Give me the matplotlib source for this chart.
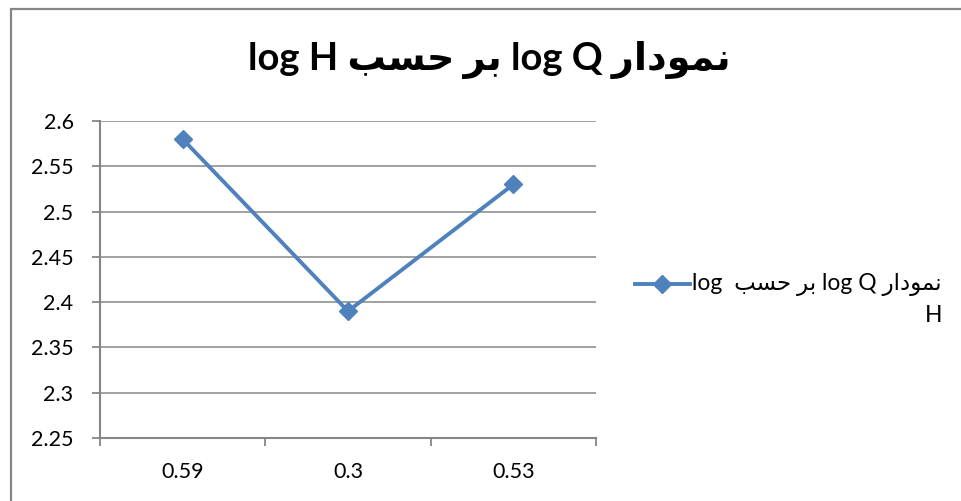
import matplotlib
matplotlib.use('Agg')
import matplotlib.pyplot as plt
from matplotlib.patches import Rectangle
from matplotlib.lines import Line2D

# data
categories = ['0.59', '0.3', '0.53']
log_q = [2.58, 2.39, 2.53]
title_text = 'نمودار log Q بر حسب log H'
legend_text = 'نمودار log Q بر حسب  log'
legend_text2 = 'H'

# matplotlib 3.10 has no arabic shaping, so do it by hand for the few letters used
# letter: (isolated, final, initial, medial)
FORMS = {
    'ب': ('\ufe8f', '\ufe90', '\ufe91', '\ufe92'),
    'ح': ('\ufea1', '\ufea2', '\ufea3', '\ufea4'),
    'س': ('\ufeb1', '\ufeb2', '\ufeb3', '\ufeb4'),
    'ن': ('\ufee5', '\ufee6', '\ufee7', '\ufee8'),
    'م': ('\ufee1', '\ufee2', '\ufee3', '\ufee4'),
    'و': ('\ufeed', '\ufeee', '\ufeed', '\ufeee'),
    'د': ('\ufea9', '\ufeaa', '\ufea9', '\ufeaa'),
    'ا': ('\ufe8d', '\ufe8e', '\ufe8d', '\ufe8e'),
    'ر': ('\ufead', '\ufeae', '\ufead', '\ufeae'),
}
DUAL = set('بحسنم')


def shape_word(w):
    out = []
    for i, ch in enumerate(w):
        p = w[i - 1] if i > 0 else None
        n = w[i + 1] if i + 1 < len(w) else None
        jp = p in DUAL
        jn = ch in DUAL and n in FORMS
        f = FORMS[ch]
        out.append(f[3] if jp and jn else f[1] if jp else f[2] if jn else f[0])
    return ''.join(reversed(out))


def rtl(text):
    runs = []
    for w in text.split(' '):
        latin = w.isascii() and w != ''
        if runs and runs[-1][0] == latin:
            runs[-1][1].append(w)
        else:
            runs.append((latin, [w]))
    parts = []
    for latin, words in reversed(runs):
        if latin:
            parts.append(' '.join(words))
        else:
            parts.append(' '.join(shape_word(w) for w in reversed(words)))
    return ' '.join(parts)


fonts = ['Lato', 'DejaVu Sans']
plt.rcParams['font.family'] = fonts
blue = '#4f81bd'
grey = '#868686'

fig = plt.figure(figsize=(9.61, 5.01), dpi=100)
fig.patches.append(Rectangle((10.5 / 961, -0.1), 1.2, 1 - 8.5 / 501 + 0.1,
                             transform=fig.transFigure, fill=False,
                             edgecolor=grey, linewidth=1.6))

ax = fig.add_axes([100 / 961, 1 - 438 / 501, 496 / 961, 317 / 501])
x = range(len(categories))
ax.plot(x, log_q, color=blue, lw=2.8, marker='D', ms=9, label='_')
ax.set_xlim(-0.5, len(categories) - 0.5)
ax.set_ylim(2.25, 2.6)
ax.set_yticks([2.25, 2.3, 2.35, 2.4, 2.45, 2.5, 2.55, 2.6])
ax.set_yticklabels(['2.25', '2.3', '2.35', '2.4', '2.45', '2.5', '2.55', '2.6'])
ax.set_xticks(list(x))
ax.set_xticklabels(categories)
ax.set_xticks([-0.5, 0.5, 1.5, 2.5], minor=True)
ax.tick_params(axis='x', which='major', length=0, pad=17, labelsize=15.5)
ax.tick_params(axis='x', which='minor', length=6, width=1.3, color=grey)
ax.tick_params(axis='y', length=6, width=1.3, color=grey, pad=13, labelsize=15.5)
ax.grid(axis='y', color=grey, lw=1.1)
ax.set_axisbelow(True)
for s in ['top', 'right']:
    ax.spines[s].set_visible(False)
for s in ['left', 'bottom']:
    ax.spines[s].set_color(grey)
    ax.spines[s].set_linewidth(1.5)

fig.text(489 / 961, 1 - 60 / 501, rtl(title_text), ha='center', va='center',
         fontsize=27.5, fontweight='bold', family=fonts)

# legend
fig.add_artist(Line2D([635 / 961, 690 / 961], [1 - 284 / 501] * 2,
                      transform=fig.transFigure, color=blue, lw=2.8))
fig.add_artist(Line2D([662 / 961], [1 - 284 / 501], transform=fig.transFigure,
                      color=blue, marker='D', ms=9))
fig.text(942 / 961, 1 - 284 / 501, rtl(legend_text), ha='right', va='center',
         fontsize=16.5, family=fonts)
fig.text(942 / 961, 1 - 316 / 501, legend_text2, ha='right', va='center',
         fontsize=16.5, family=fonts)

fig.savefig('out.png', dpi=100)
